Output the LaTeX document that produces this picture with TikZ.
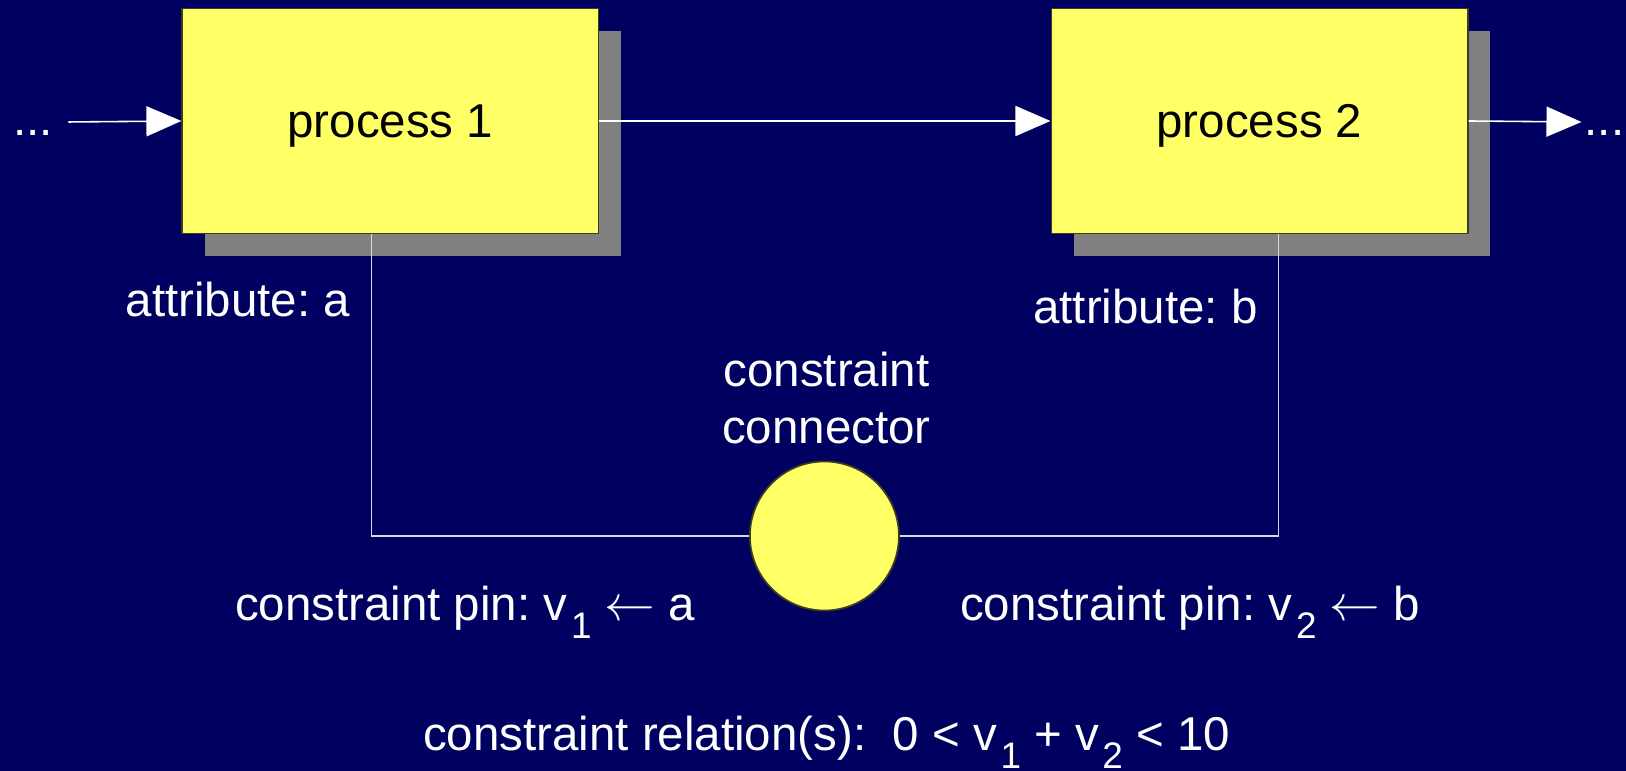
\documentclass[tikz,border=0pt]{standalone}
\usepackage{fontspec}
\setmainfont{Liberation Sans}
\usetikzlibrary{arrows.meta,positioning,shadows}
\definecolor{slidebg}{RGB}{0,0,96}
\definecolor{procyellow}{RGB}{255,255,102}
\definecolor{shadegray}{RGB}{128,128,128}
\definecolor{rimdark}{RGB}{60,60,30}
\newcommand{\pinsub}[1]{\raisebox{-5pt}{\fontsize{10.5}{12}\selectfont\kern1pt #1}}
\frenchspacing

\begin{document}
\begin{tikzpicture}[x=0.01cm, y=-0.01cm,
    every node/.style={font=\fontsize{13.5}{16.2}\selectfont, text=white},
    procbox/.style={draw=rimdark, line width=0.5pt, fill=procyellow, text=black,
      minimum width=4.16cm, minimum height=2.25cm, text depth=0pt,
      drop shadow={shadow xshift=0.228cm, shadow yshift=-0.228cm,
        fill=shadegray, opacity=1}},
    pinball/.style={circle, draw=rimdark, line width=0.5pt, fill=procyellow,
      minimum size=1.49cm, inner sep=0pt},
    flow/.style={draw=white, line width=0.45pt, -{Triangle[length=3.5mm,width=3mm]}},
    wire/.style={draw=white!85!slidebg, line width=0.45pt}]
    \useasboundingbox (0,0) rectangle (1626,771);
    \fill[slidebg] (0,0) rectangle (1626,771);

    \node[procbox] (p1) at (390.4,121) {process 1};
    \node[procbox] (p2) at (1259.5,121) {process 2};
    \node[pinball] (con) at (824.4,536) {};

    \node[anchor=base west, inner sep=0pt] (dotsL) at (12.4,136) {...};
    \node[anchor=base east, inner sep=0pt] (dotsR) at (1625,136) {...};
    \coordinate (inL) at (68.4,122);
    \coordinate (outR) at (1581.5,122);

    \draw[flow] (inL) -- (p1.west);
    \draw[flow] (p1.east) -- (p2.west);
    \draw[flow] (p2.east) -- (outR);
    \draw[wire] ([xshift=-0.19cm]p1.south) |- (con.west);
    \draw[wire] ([xshift=0.19cm]p2.south) |- (con.east);

    \node[anchor=base] (attrA) at (238,317) {attribute: a};
    \node[anchor=base] (attrB) at (1145.4,323.5) {attribute: b};
    \node[align=center, inner sep=0pt] (conLbl) at (826.5,398.5) {constraint\\connector};
    \node[anchor=base] (pinA) at (465,621) {constraint pin: v\pinsub{1} $\leftarrow$ a};
    \node[anchor=base] (pinB) at (1190,621) {constraint pin: v\pinsub{2} $\leftarrow$ b};
    \node[anchor=base] (rel) at (826.5,751)
         {constraint relation(s):\ \ 0 < v\pinsub{1} + v\pinsub{2} < 10};
\end{tikzpicture}
\end{document}
